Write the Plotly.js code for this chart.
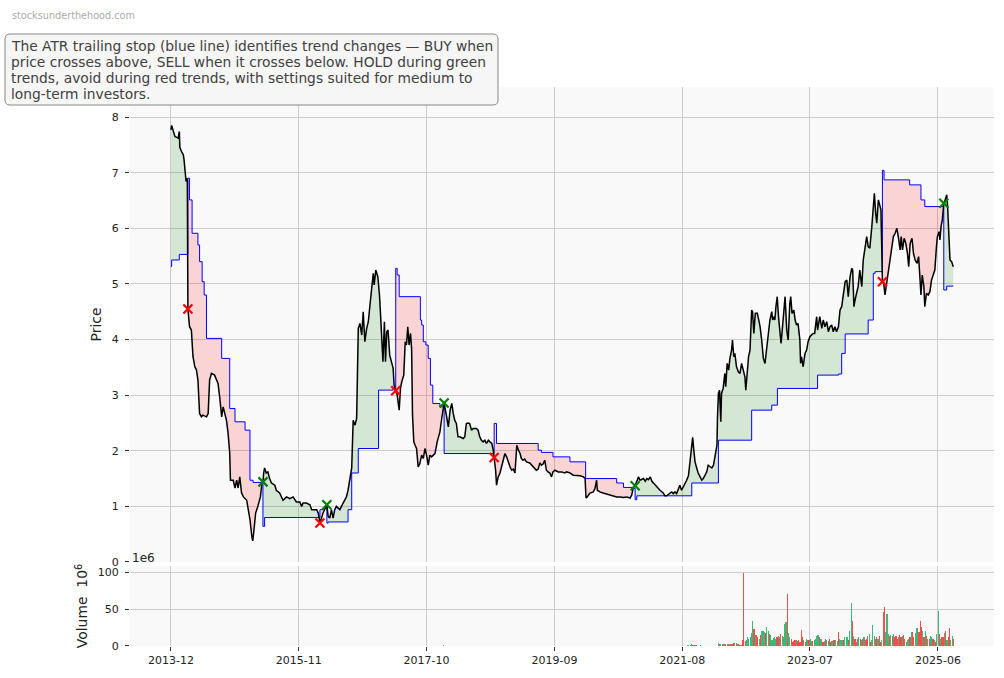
<!DOCTYPE html>
<html><head><meta charset="utf-8">
<script src="https://cdn.plot.ly/plotly-3.0.1.min.js"></script>
<style>html,body{margin:0;padding:0;background:#fff}#chart{width:1004px;height:678px}</style>
</head><body><div id="chart"></div>
<script>
// ---------------- DATA ----------------
const priceDates = [
 '2013-12-01','2013-12-05','2013-12-23',
 '2014-01-10','2014-01-16','2014-01-19','2014-01-28','2014-02-07','2014-02-11','2014-02-17','2014-02-22','2014-02-26','2014-03-01','2014-03-04','2014-03-13','2014-03-23','2014-04-01','2014-04-11','2014-04-20','2014-04-28','2014-05-07','2014-05-17','2014-05-25','2014-06-14','2014-06-23','2014-07-01','2014-07-11','2014-07-28','2014-08-07','2014-08-16','2014-08-25','2014-09-05','2014-09-13','2014-10-01','2014-10-10','2014-10-19','2014-10-23','2014-11-07','2014-11-17','2014-11-26','2014-12-04','2014-12-13','2014-12-23',
 '2015-01-02','2015-01-20','2015-01-29','2015-02-07','2015-02-17','2015-02-22','2015-02-27','2015-03-10','2015-03-22','2015-04-05','2015-04-14','2015-04-19','2015-04-23','2015-04-28','2015-05-07','2015-05-16','2015-05-25','2015-06-05','2015-06-23','2015-07-01','2015-07-19','2015-08-07','2015-08-26','2015-09-13','2015-10-01','2015-10-19','2015-11-07','2015-11-17','2015-11-25','2015-12-13',
 '2016-01-01','2016-01-11','2016-02-07','2016-02-16','2016-02-25','2016-03-13','2016-04-03','2016-04-10','2016-04-19','2016-04-28','2016-05-07','2016-05-16','2016-05-25','2016-06-13','2016-07-01','2016-07-19','2016-07-28','2016-08-07','2016-08-17','2016-08-25','2016-09-04','2016-09-13','2016-09-22','2016-10-01','2016-10-11','2016-10-19','2016-10-28','2016-11-07','2016-11-16','2016-11-25','2016-12-04','2016-12-13','2016-12-18','2016-12-27',
 '2017-01-07','2017-01-16','2017-01-23','2017-02-04','2017-02-12','2017-02-18','2017-02-25','2017-03-04','2017-03-13','2017-03-23','2017-04-01','2017-04-06','2017-04-15','2017-04-23','2017-05-04','2017-05-11','2017-05-18','2017-05-29','2017-06-06','2017-06-13','2017-06-20','2017-06-27','2017-07-05','2017-07-11','2017-07-16','2017-07-23','2017-07-30','2017-08-07','2017-08-16','2017-08-25','2017-09-04','2017-09-13','2017-09-22','2017-10-01','2017-10-10','2017-10-19','2017-10-28','2017-11-16','2017-11-28','2017-12-13','2017-12-23',
 '2018-01-05','2018-01-19','2018-01-28','2018-02-07','2018-02-16','2018-02-24','2018-03-04','2018-03-13','2018-03-22','2018-04-01','2018-04-19','2018-04-28','2018-05-07','2018-05-16','2018-05-25','2018-06-04','2018-06-13','2018-07-01','2018-07-10','2018-07-19','2018-07-28','2018-08-07','2018-08-16','2018-08-25','2018-09-04','2018-09-13','2018-09-23','2018-10-01','2018-10-06','2018-10-14','2018-10-19','2018-10-28','2018-11-07','2018-11-16','2018-11-24','2018-12-04','2018-12-13','2018-12-22',
 '2019-01-01','2019-01-10','2019-01-19','2019-01-28','2019-02-07','2019-02-16','2019-02-25','2019-03-04','2019-03-13','2019-03-22','2019-04-01','2019-04-19','2019-05-07','2019-05-25','2019-06-04','2019-06-13','2019-06-22','2019-07-01','2019-07-10','2019-07-19','2019-07-28','2019-08-07','2019-08-16','2019-08-24','2019-09-04','2019-09-22','2019-10-10','2019-10-28','2019-11-07','2019-11-25','2019-12-13',
 '2020-01-01','2020-01-19','2020-02-07','2020-02-16','2020-02-21','2020-02-28','2020-03-13','2020-04-01','2020-04-10','2020-04-19','2020-04-23','2020-05-07','2020-05-25','2020-06-13','2020-07-01','2020-07-19','2020-08-07','2020-08-25','2020-09-13','2020-10-01','2020-10-19','2020-10-28','2020-11-07','2020-11-16','2020-11-25','2020-12-04','2020-12-13','2020-12-22',
 '2021-01-01','2021-01-10','2021-01-19','2021-01-28','2021-02-07','2021-02-16','2021-02-24','2021-03-04','2021-03-13','2021-04-01','2021-04-19','2021-04-28','2021-05-07','2021-05-25','2021-06-04','2021-06-13','2021-06-22','2021-07-01','2021-07-10','2021-07-19','2021-07-28','2021-08-07','2021-08-16','2021-08-25','2021-09-04','2021-09-13','2021-09-22','2021-09-27','2021-10-04','2021-10-10','2021-10-19','2021-10-27','2021-11-07','2021-11-16','2021-11-24','2021-12-04','2021-12-13','2021-12-21',
 '2022-01-01','2022-01-10','2022-01-19','2022-01-28','2022-02-07','2022-02-10','2022-02-15','2022-02-21','2022-02-28','2022-03-04','2022-03-13','2022-03-22','2022-03-27','2022-04-04','2022-04-12','2022-04-19','2022-04-28','2022-05-03','2022-05-10','2022-05-16','2022-05-25','2022-06-04','2022-06-13','2022-06-22','2022-07-01','2022-07-10','2022-07-15','2022-07-22','2022-07-30','2022-08-07','2022-08-16','2022-08-21','2022-08-28','2022-09-05','2022-09-16','2022-09-24','2022-10-01','2022-10-10','2022-10-19','2022-10-28','2022-11-07','2022-11-16','2022-11-24','2022-12-04','2022-12-09','2022-12-16','2022-12-21','2022-12-27',
 '2023-01-03','2023-01-10','2023-01-19','2023-01-24','2023-02-01','2023-02-10','2023-02-15','2023-02-24','2023-03-04','2023-03-13','2023-03-18','2023-03-25','2023-04-04','2023-04-11','2023-04-19','2023-04-27','2023-05-07','2023-05-11','2023-05-16','2023-05-25','2023-06-04','2023-06-13','2023-06-21','2023-07-01','2023-07-10','2023-07-18','2023-07-27','2023-08-07','2023-08-12','2023-08-19','2023-08-24','2023-09-04','2023-09-12','2023-09-21','2023-10-01','2023-10-10','2023-10-19','2023-10-28','2023-11-06','2023-11-15','2023-11-24','2023-12-04','2023-12-13','2023-12-22',
 '2024-01-01','2024-01-10','2024-01-19','2024-01-27','2024-02-06','2024-02-15','2024-02-20','2024-02-27','2024-03-04','2024-03-13','2024-03-21','2024-03-30','2024-04-10','2024-04-18','2024-04-27','2024-05-07','2024-05-15','2024-05-24','2024-06-04','2024-06-12','2024-06-18','2024-06-25','2024-07-01','2024-07-10','2024-07-19','2024-07-24','2024-08-01','2024-08-06','2024-08-15','2024-08-24','2024-09-03','2024-09-12','2024-09-21','2024-09-30','2024-10-10','2024-10-19','2024-10-27','2024-11-06','2024-11-12','2024-11-19','2024-11-28','2024-12-07','2024-12-16','2024-12-23','2024-12-31',
 '2025-01-10','2025-01-18','2025-01-27','2025-02-07','2025-02-15','2025-02-21','2025-02-28','2025-03-07','2025-03-16','2025-03-21','2025-03-30','2025-04-09','2025-04-18','2025-04-27','2025-05-06','2025-05-15','2025-05-24','2025-05-29','2025-06-07','2025-06-12','2025-06-18','2025-06-25','2025-06-30','2025-07-03','2025-07-10','2025-07-19','2025-07-24','2025-07-30','2025-08-06','2025-08-15','2025-08-24'
];
const priceVals = [
 7.77,7.85,7.65,
 7.62,7.74,7.45,7.38,7.32,7.23,7.00,6.84,6.90,6.85,4.55,4.23,4.17,3.69,3.51,3.45,3.27,2.67,2.61,2.64,2.61,2.67,3.27,3.39,3.36,3.27,3.21,2.97,2.61,2.79,2.55,2.32,1.96,1.47,1.47,1.33,1.47,1.33,1.53,1.24,
 1.17,1.11,0.94,0.76,0.46,0.38,0.52,0.88,1.00,1.17,1.42,1.44,1.60,1.69,1.60,1.62,1.50,1.42,1.38,1.29,1.24,1.11,1.17,1.14,1.17,1.08,1.08,1.00,1.06,1.06,
 1.03,0.94,0.94,0.88,0.70,0.88,1.03,0.82,0.79,0.94,0.79,0.94,1.00,0.94,1.06,1.17,1.29,1.47,1.69,2.55,2.46,2.58,4.20,4.29,4.08,4.50,3.96,4.20,4.32,4.62,4.98,5.19,4.98,5.25,
 5.13,4.80,4.38,3.60,4.32,3.60,4.14,4.17,3.72,3.60,3.48,3.18,3.08,3.00,2.73,3.12,3.24,3.36,3.96,3.90,4.23,3.90,4.11,3.84,2.64,2.16,2.10,2.04,1.71,1.77,1.92,1.86,2.04,1.92,1.74,1.92,1.89,1.95,2.16,2.34,2.58,
 2.86,2.61,2.43,2.73,2.85,2.67,2.55,2.49,2.25,2.25,2.22,2.25,2.49,2.50,2.49,2.37,2.40,2.40,2.37,2.25,2.19,2.16,2.19,2.13,2.19,2.16,2.13,2.01,1.88,1.65,1.38,1.53,1.60,1.71,1.83,1.95,1.89,1.78,
 1.71,1.65,1.67,1.60,2.10,2.01,1.95,1.86,1.83,1.85,1.80,1.78,1.71,1.65,1.67,1.78,1.74,1.76,1.83,1.65,1.62,1.60,1.53,1.62,1.65,1.62,1.62,1.60,1.62,1.60,1.56,
 1.56,1.55,1.53,1.50,1.15,1.17,1.24,1.26,1.32,1.47,1.29,1.26,1.24,1.22,1.20,1.19,1.17,1.17,1.16,1.17,1.15,1.20,1.35,1.37,1.47,1.53,1.47,1.49,
 1.50,1.45,1.50,1.48,1.53,1.45,1.42,1.38,1.35,1.29,1.24,1.19,1.19,1.24,1.26,1.23,1.26,1.23,1.29,1.38,1.29,1.35,1.42,1.47,1.55,1.83,2.07,2.24,1.98,1.80,1.69,1.60,1.53,1.47,1.50,1.56,1.62,1.74,
 1.71,1.69,1.74,1.89,2.10,2.61,3.03,3.09,2.52,3.03,3.12,3.39,3.15,3.57,3.45,3.66,3.81,3.99,3.69,3.75,3.51,3.42,3.39,3.57,3.45,3.33,3.09,3.39,3.69,3.81,4.53,4.50,4.11,4.47,4.47,4.35,4.23,3.99,3.66,3.57,3.87,4.17,4.35,4.50,4.35,4.41,4.35,4.59,
 4.77,4.41,4.11,3.93,4.23,4.53,4.77,4.17,3.99,4.65,4.77,4.47,4.53,4.35,4.26,4.29,3.99,3.57,3.69,3.51,3.75,3.81,3.96,4.05,4.08,4.11,4.11,4.41,4.17,4.35,4.41,4.20,4.35,4.23,4.32,4.14,4.23,4.26,4.14,4.23,4.14,4.23,4.53,4.59,
 4.83,5.04,5.07,4.77,5.13,5.28,5.25,4.59,4.71,4.83,4.95,5.25,4.95,5.43,5.67,5.85,5.67,5.64,6.03,6.39,6.63,6.27,6.09,6.51,6.39,6.33,5.04,5.07,4.80,5.01,5.25,5.49,5.64,5.85,5.91,6.00,5.85,5.61,5.85,5.61,5.82,5.73,5.55,5.31,5.73,
 5.82,5.55,5.43,5.37,5.49,5.19,4.80,5.16,4.95,4.59,4.83,4.80,4.86,5.07,5.16,5.25,5.67,5.85,5.94,5.79,6.03,6.15,6.33,6.45,6.51,6.60,6.39,5.94,5.43,5.40,5.31
];

// ATR trailing stop: value takes effect on each date and holds until the next one
const stopDates = [
 '2013-12-01','2013-12-05','2014-01-16','2014-03-04','2014-03-13','2014-03-27','2014-04-28','2014-05-07','2014-05-21','2014-06-01','2014-06-14',
 '2014-09-05','2014-10-19','2014-11-17','2015-01-11','2015-02-07','2015-02-24','2015-04-19','2015-04-28','2016-02-25','2016-03-13','2016-04-03',
 '2016-04-10','2016-07-28','2016-08-17','2016-09-22','2017-01-11','2017-04-01','2017-04-15','2017-04-23','2017-05-04','2017-08-28','2017-09-04',
 '2017-09-13','2017-09-27','2017-10-10','2017-10-22','2017-11-04','2017-12-13','2018-01-05','2018-10-06','2018-10-19','2019-06-04','2019-06-22',
 '2019-08-24','2019-11-25','2020-02-19','2020-08-07','2020-09-13','2020-11-07','2020-11-16','2020-11-25','2021-09-22','2022-02-15','2022-08-16',
 '2022-12-04','2023-01-04','2023-08-12','2023-12-04','2023-12-22','2024-01-10','2024-05-15','2024-06-12','2024-06-22','2024-08-01','2024-08-10',
 '2024-12-28','2025-02-28','2025-03-21','2025-07-03','2025-07-19'
];
const stopVals = [
 5.31,5.43,5.53,6.90,6.51,5.91,5.70,5.40,5.04,4.80,4.02,
 3.66,2.76,2.52,2.37,1.47,1.43,0.64,0.80,0.94,0.97,0.70,
 0.72,0.94,1.60,2.04,3.09,3.12,5.28,5.16,4.77,4.35,4.26,
 3.96,3.90,3.66,3.18,2.85,2.79,1.95,2.49,2.13,2.01,1.97,
 1.89,1.80,1.50,1.42,1.34,1.32,1.12,1.19,1.42,2.19,2.73,
 2.82,3.12,3.36,3.38,3.75,4.10,4.35,5.19,5.22,7.04,6.87,
 6.78,6.51,6.39,4.89,4.96
];

const signalDates = ['2014-03-04','2015-04-19','2016-02-25','2016-04-03','2017-04-15','2018-01-05','2018-10-06','2020-11-16','2024-08-01','2025-07-03'];
const signalTypes = ['SELL','BUY','SELL','BUY','SELL','BUY','SELL','BUY','SELL','BUY'];

// weekly volume, millions of shares; volUp: 1 = up week (green), 0 = down week (red)
const volDates = [
 '2018-01-01',
 '2021-08-30','2021-09-06','2021-09-13','2021-09-20','2021-09-27','2021-10-04','2021-10-11','2021-10-18','2021-11-08',
 '2022-02-14','2022-02-21','2022-02-28','2022-03-07','2022-03-14','2022-03-21','2022-03-28','2022-04-04','2022-04-11','2022-04-18','2022-04-25','2022-05-02','2022-05-09','2022-05-16','2022-05-23','2022-05-30','2022-06-06','2022-06-13','2022-06-20',
 '2022-06-27','2022-07-04','2022-07-11','2022-07-18','2022-07-25','2022-08-01','2022-08-08','2022-08-15','2022-08-22','2022-08-29','2022-09-05','2022-09-12','2022-09-19','2022-09-26','2022-10-03','2022-10-10','2022-10-17','2022-10-24','2022-10-31','2022-11-07','2022-11-14','2022-11-21','2022-11-28','2022-12-05','2022-12-12','2022-12-19','2022-12-26',
 '2023-01-02','2023-01-09','2023-01-16','2023-01-23','2023-01-30','2023-02-06','2023-02-13','2023-02-20','2023-02-27','2023-03-06','2023-03-13','2023-03-20','2023-03-27','2023-04-03','2023-04-10','2023-04-17','2023-04-24','2023-05-01','2023-05-08','2023-05-15','2023-05-22','2023-05-29','2023-06-05','2023-06-12','2023-06-19','2023-06-26','2023-07-03','2023-07-10','2023-07-17','2023-07-24','2023-07-31','2023-08-07','2023-08-14','2023-08-21','2023-08-28','2023-09-04','2023-09-11','2023-09-18','2023-09-25','2023-10-02','2023-10-09','2023-10-16','2023-10-23','2023-10-30','2023-11-06','2023-11-13','2023-11-20','2023-11-27','2023-12-04','2023-12-11','2023-12-18','2023-12-25',
 '2024-01-01','2024-01-08','2024-01-15','2024-01-22','2024-01-29','2024-02-05','2024-02-12','2024-02-19','2024-02-26','2024-03-04','2024-03-11','2024-03-18','2024-03-25','2024-04-01','2024-04-08','2024-04-15','2024-04-22','2024-04-29','2024-05-06','2024-05-13','2024-05-20','2024-05-27','2024-06-03','2024-06-10','2024-06-17','2024-06-24','2024-07-01','2024-07-08','2024-07-15','2024-07-22','2024-07-29','2024-08-05','2024-08-12','2024-08-19','2024-08-26','2024-09-02','2024-09-09','2024-09-16','2024-09-23','2024-09-30','2024-10-07','2024-10-14','2024-10-21','2024-10-28','2024-11-04','2024-11-11','2024-11-18','2024-11-25','2024-12-02','2024-12-09','2024-12-16','2024-12-23','2024-12-30',
 '2025-01-06','2025-01-13','2025-01-20','2025-01-27','2025-02-03','2025-02-10','2025-02-17','2025-02-24','2025-03-03','2025-03-10','2025-03-17','2025-03-24','2025-03-31','2025-04-07','2025-04-14','2025-04-21','2025-04-28','2025-05-05','2025-05-12','2025-05-19','2025-05-26','2025-06-02','2025-06-09','2025-06-16','2025-06-23','2025-06-30','2025-07-07','2025-07-14','2025-07-21','2025-07-28','2025-08-04','2025-08-11','2025-08-18','2025-08-25'
];
const volVals = [
 1.5,
 1.4,1.4,1.4,2.7,1.4,1.4,1.4,1.4,1.4,
 3.6,2.7,2.3,2.3,2.3,2.3,2.7,2.7,2.7,2.7,2.7,2.7,3.6,3.6,3.6,2.7,2.7,1.4,1.4,
 8,99.8,7,8,12,10,12,18,34,23,15,15,12,10,15,20,20,19,18,26,20,16,15,8,11,12,10,
 12,14,12,16,13,12,30,32,71,18,12,9.5,6,7,8,8,7,8,6,22,12,8,6,9,8,8,9.5,7,7,8,9,13.6,15,12.7,9,10,6,7,9,8,7,9,6,7,8,8,8,7,19.5,9,8,8,
 8,12,12,12,8,20,59,34,13,9,6,9,12,9,8,10,12,8,10,13.6,16,6,8,28.6,13.6,9,12,9,13.6,6,8,46.7,52.6,19.5,43,16,13.6,15,13.6,16,12,13.6,10,12.7,15,12,13.6,15,9,6,8,9,12.7,
 19.5,19.5,12.7,17,24,24,19.5,34,26,21,12,21,13.6,10,9,13,12,9,8,6,16,47.6,16,9,12,12,18,21,8,12,25,8,13,10
];
const volUp = [
 1,
 1,1,1,1,0,0,0,0,0,
 1,0,1,0,1,0,1,0,0,1,0,0,0,1,1,0,0,0,0,
 0,0,0,1,1,1,1,1,1,0,1,0,0,1,0,1,1,1,0,1,1,0,1,1,1,1,1,
 0,0,1,0,1,1,1,1,0,1,1,0,0,0,0,1,0,0,0,0,0,1,0,1,1,0,1,1,0,1,1,1,1,0,1,1,0,1,0,1,1,0,0,1,0,0,1,1,0,1,1,1,
 0,1,1,1,0,1,1,0,1,0,1,0,1,0,1,0,1,0,0,0,1,0,1,1,1,0,0,1,0,0,1,0,0,1,1,1,0,1,0,1,0,0,0,1,0,0,1,0,0,1,1,1,0,
 1,0,0,1,1,1,0,0,0,1,0,1,0,1,0,1,1,0,1,0,1,1,0,1,0,0,1,0,1,0,0,1,1,0
];

const xTickVals = ['2013-12-01','2015-11-01','2017-10-01','2019-09-01','2021-08-01','2023-07-01','2025-06-01'];
const xTickText = ['2013-12','2015-11','2017-10','2019-09','2021-08','2023-07','2025-06'];
const priceTicks = [0,1,2,3,4,5,6,7,8];
const volTicks = [0,50,100];
const noteLines = [
 'The ATR trailing stop (blue line) identifies trend changes \u2014 BUY when',
 'price crosses above, SELL when it crosses below. HOLD during green',
 'trends, avoid during red trends, with settings suited for medium to',
 'long-term investors.'
];
const watermark = 'stocksunderthehood.com';

// ---------------- BUILD ----------------
if (priceDates.length !== priceVals.length) console.error('price length mismatch', priceDates.length, priceVals.length);
if (stopDates.length !== stopVals.length) console.error('stop length mismatch');
if (volDates.length !== volVals.length || volDates.length !== volUp.length) console.error('vol length mismatch', volDates.length, volVals.length, volUp.length);

const lastDate = priceDates[priceDates.length - 1];
function stopAt(d, strict) {
  let v = stopVals[0];
  for (let i = 0; i < stopDates.length; i++) {
    if (strict ? stopDates[i] < d : stopDates[i] <= d) v = stopVals[i]; else break;
  }
  return v;
}

const GREEN_FILL = 'rgba(0,128,0,0.15)';
const RED_FILL = 'rgba(255,0,0,0.15)';
const traces = [];
const bounds = [priceDates[0]].concat(signalDates, [lastDate]);
for (let i = 0; i < bounds.length - 1; i++) {
  const s = bounds[i], e = bounds[i + 1];
  const up = i === 0 ? signalTypes[0] === 'SELL' : signalTypes[i - 1] === 'BUY';
  const sx = [s], sy = [stopAt(s, false)];
  stopDates.forEach((d, j) => { if (d > s && d < e) { sx.push(d); sy.push(stopVals[j]); } });
  sx.push(e); sy.push(stopAt(e, true));
  const px = [], py = [];
  priceDates.forEach((d, j) => { if (d >= s && d <= e) { px.push(d); py.push(priceVals[j]); } });
  traces.push({x: sx, y: sy, mode: 'lines', line: {width: 0, shape: 'hv'}, hoverinfo: 'skip', showlegend: false, xaxis: 'x', yaxis: 'y'});
  traces.push({x: px, y: py, mode: 'lines', line: {width: 0}, fill: 'tonexty', fillcolor: up ? GREEN_FILL : RED_FILL,
               hoverinfo: 'skip', showlegend: false, xaxis: 'x', yaxis: 'y'});
}

// stop line
traces.push({x: stopDates.concat([lastDate]), y: stopVals.concat([stopVals[stopVals.length - 1]]),
  mode: 'lines', line: {color: '#0000ff', width: 1, shape: 'hv'}, name: 'ATR stop', showlegend: false, xaxis: 'x', yaxis: 'y'});
// price line
traces.push({x: priceDates, y: priceVals, mode: 'lines', line: {color: '#000000', width: 1.5},
  name: 'Price', showlegend: false, xaxis: 'x', yaxis: 'y'});

// signals
['SELL', 'BUY'].forEach(t => {
  const xs = [], ys = [];
  signalDates.forEach((d, i) => {
    if (signalTypes[i] === t) { xs.push(d); ys.push(priceVals[priceDates.indexOf(d)]); }
  });
  const c = t === 'SELL' ? '#ff0000' : '#008000';
  traces.push({x: xs, y: ys, mode: 'markers', name: t, showlegend: false, xaxis: 'x', yaxis: 'y',
    marker: {symbol: 'x-thin', size: 9, color: c, line: {color: c, width: 2.2}}});
});

// volume
traces.push({x: volDates, y: volVals, type: 'bar', xaxis: 'x', yaxis: 'y2', showlegend: false, name: 'Volume',
  width: 6.3 * 86400000,
  marker: {color: volUp.map(u => u ? '#3cb878' : '#ff4a4a'), line: {width: 0}}});

// ---------------- LAYOUT ----------------
const PL = 130, PW = 864, PT = 87, PH = 559;
const px2x = p => (p - PL) / PW;
const py2y = p => 1 - (p - PT) / PH;
const bx0 = px2x(5), bx1 = px2x(498), by0 = py2y(105), by1 = py2y(34);
const rx = 5 / PW, ry = 5 / PH;
const boxPath = `M ${bx0+rx},${by1} L ${bx1-rx},${by1} Q ${bx1},${by1} ${bx1},${by1-ry} L ${bx1},${by0+ry} Q ${bx1},${by0} ${bx1-rx},${by0} L ${bx0+rx},${by0} Q ${bx0},${by0} ${bx0},${by0+ry} L ${bx0},${by1-ry} Q ${bx0},${by1} ${bx0+rx},${by1} Z`;

const annotations = noteLines.map((t, i) => ({
  text: t, xref: 'paper', yref: 'paper', x: px2x(10), y: py2y(46 + 16 * i),
  xanchor: 'left', yanchor: 'middle', showarrow: false, borderpad: 0,
  font: {family: 'DejaVu Sans', size: 13.8, color: '#404040'}
}));
annotations.push({text: watermark, xref: 'paper', yref: 'paper', x: px2x(11), y: py2y(15),
  xanchor: 'left', yanchor: 'middle', showarrow: false, borderpad: 0,
  font: {family: 'DejaVu Sans', size: 9.7, color: '#aaaaaa'}});
annotations.push({text: '1e6', xref: 'paper', yref: 'paper', x: px2x(131), y: py2y(558),
  xanchor: 'left', yanchor: 'middle', showarrow: false, borderpad: 0,
  font: {family: 'DejaVu Sans', size: 12, color: '#222222'}});

const axisCommon = {ticks: 'outside', ticklen: 4, tickwidth: 1, tickcolor: '#333333', showgrid: true,
  gridcolor: '#cccccc', gridwidth: 1, zeroline: false, showline: false, tickfont: {size: 11, color: '#222222'}};

const layout = {
  width: 1004, height: 678,
  margin: {l: PL, r: 10, t: PT, b: 32, pad: 0},
  paper_bgcolor: '#ffffff', plot_bgcolor: '#f9f9f9',
  font: {family: 'DejaVu Sans, sans-serif', size: 11, color: '#222222'},
  showlegend: false, bargap: 0,
  xaxis: Object.assign({}, axisCommon, {type: 'date', anchor: 'y2', range: ['2013-04-21', '2026-04-04'],
    tickmode: 'array', tickvals: xTickVals, ticktext: xTickText}),
  yaxis: Object.assign({}, axisCommon, {domain: [0.1503, 1], range: [0, 8.54], tickmode: 'array', tickvals: priceTicks,
    ticklabelstandoff: 4, title: {text: 'Price', font: {size: 13.9, color: '#222222'}, standoff: 6}}),
  yaxis2: Object.assign({}, axisCommon, {domain: [0, 0.1431], range: [0, 108.8], tickmode: 'array', tickvals: volTicks,
    ticklabelstandoff: 4, title: {text: 'Volume  10<sup>6</sup>', font: {size: 13.9, color: '#222222'}, standoff: 6}}),
  shapes: [{type: 'path', xref: 'paper', yref: 'paper', path: boxPath, fillcolor: '#f6f6f6',
    line: {color: '#888888', width: 1}, layer: 'above'}],
  annotations: annotations
};

Plotly.newPlot('chart', traces, layout, {displayModeBar: false, staticPlot: true});
</script>
</body></html>
